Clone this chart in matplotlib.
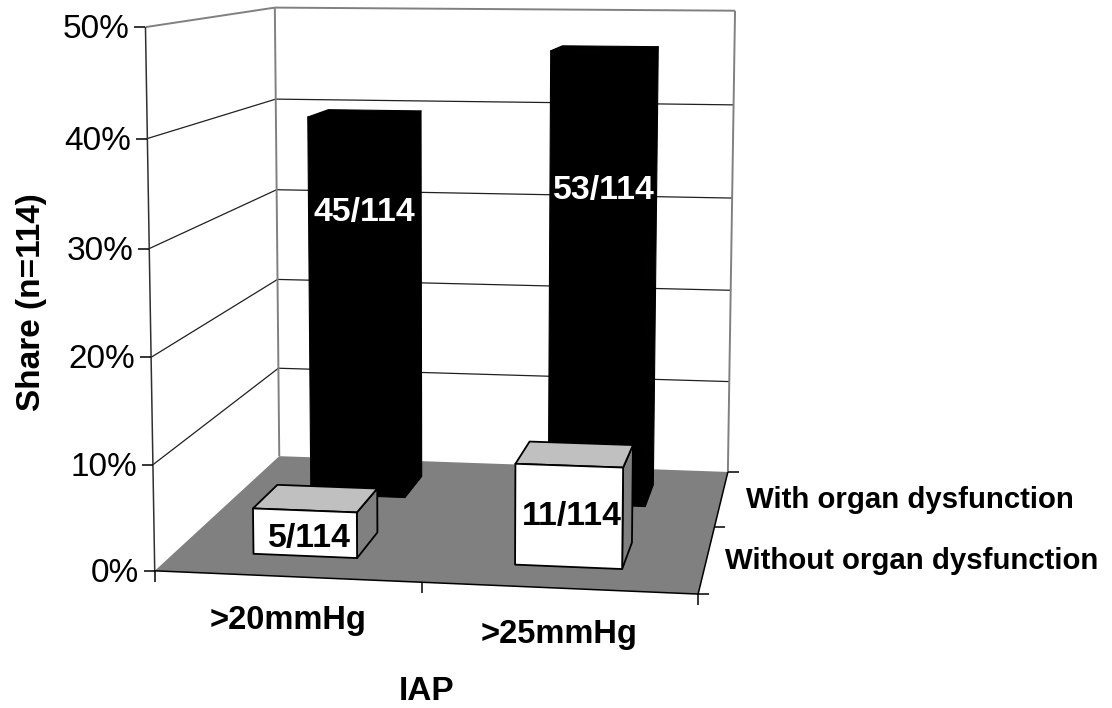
import numpy as np
import matplotlib
matplotlib.use("Agg")
import matplotlib.pyplot as plt
from matplotlib.patches import Polygon

categories = [">20mmHg", ">25mmHg"]
series_names = ["Without organ dysfunction", "With organ dysfunction"]
without_share = [4.4, 9.6]
with_share = [39.5, 46.5]
without_labels = ["5/114", "11/114"]
with_labels = ["45/114", "53/114"]
value_ticks = [0, 10, 20, 30, 40, 50]
value_tick_labels = ["0%", "10%", "20%", "30%", "40%", "50%"]
y_title = "Share (n=114)"
x_title = "IAP"

FONT = "Liberation Sans"
W, H = 1112, 708
VMAX = 50.0
BAR_W = 0.2

# Calibration of the perspective camera: unit-cube corner -> canvas pixel
cam_cube = np.array([[0,0,0],[0,0,1],[0,1,1],[0,1,0],[1,1,1],[1,1,0],[1,0,0]], float)
cam_px = np.array([[155,571],[145.3,27],[275,7.7],[279,456],[735,10.7],[728,472],[698,594]], float)

def fit_camera(c, p):
    rows = []
    for (x, y, z), (u, v) in zip(c, p):
        rows.append([x, y, z, 1, 0, 0, 0, 0, -u*x, -u*y, -u*z, -u])
        rows.append([0, 0, 0, 0, x, y, z, 1, -v*x, -v*y, -v*z, -v])
    return np.linalg.svd(np.array(rows))[2][-1].reshape(3, 4)

P = fit_camera(cam_cube, cam_px)

def proj(x, d, v):
    """x across categories (0-2), d across series (0-2), v in percent."""
    q = P @ np.array([x/2, d/2, v/VMAX, 1.0])
    return q[:2] / q[2]

fig = plt.figure(figsize=(W/100, H/100), dpi=100)
ax = fig.add_axes([0, 0, 1, 1])
ax.set_xlim(0, W); ax.set_ylim(H, 0); ax.axis("off")

def line(a, b, color="black", lw=0.9, z=2):
    ax.plot([a[0], b[0]], [a[1], b[1]], color=color, lw=lw, zorder=z, solid_capstyle="butt")

def poly(pts, fc, ec="black", lw=1.3, z=3):
    ax.add_patch(Polygon(pts, closed=True, fc=fc, ec=ec, lw=lw, zorder=z, joinstyle="round"))

# gridlines on the two walls
for v in value_ticks[1:]:
    col = "#808080" if v == VMAX else "#202020"
    wid = 1.4 if v == VMAX else 0.9
    line(proj(0, 0, v), proj(0, 2, v), col, wid)
    line(proj(0, 2, v), proj(2, 2, v), col, wid)
line(proj(0, 2, 0), proj(0, 2, VMAX), "#808080", 1.4)
line(proj(2, 2, 0), proj(2, 2, VMAX), "#808080", 1.4)
line(proj(0, 0, 0), proj(0, 0, VMAX), "#303030", 1.1)

# floor
poly([proj(0,0,0), proj(2,0,0), proj(2,2,0), proj(0,2,0)], "#808080", ec="none", z=2.5)
line(proj(0,0,0), proj(2,0,0), "black", 1.1, 2.6)
line(proj(2,0,0), proj(2,2,0), "black", 1.1, 2.6)

# value axis ticks and labels
for v, lab in zip(value_ticks, value_tick_labels):
    p = proj(0, 0, v)
    line(p, (p[0]-11, p[1]), "black", 1.1)
    ax.text(p[0]-16, p[1]+2.5, lab, ha="right", va="center", fontsize=24, family=FONT, color="black")

# category ticks and labels
for i in range(3):
    p = proj(i, 0, 0)
    line(p, (p[0], p[1]+11), "black", 1.1)
cat_pos = [(288, 621), (559, 635)]
for c, (cx, cy) in zip(categories, cat_pos):
    ax.text(cx, cy, c, ha="center", va="center", fontsize=23.5, family=FONT, weight="bold")

# series ticks and labels
for i in range(3):
    p = proj(2, i, 0)
    line(p, (p[0]+11, p[1]), "black", 1.1)
ser_pos = [(1098, 561), (1074, 500)]
for s, (sx, sy) in zip(series_names, ser_pos):
    ax.text(sx, sy, s, ha="right", va="center", fontsize=21.2, family=FONT, weight="bold")

def bar(i, row, v, front, top, side, ec, lw, z):
    x0, x1 = i + 0.5 - BAR_W, i + 0.5 + BAR_W
    d0, d1 = row + 0.5 - BAR_W, row + 0.5 + BAR_W
    poly([proj(x1,d0,0), proj(x1,d1,0), proj(x1,d1,v), proj(x1,d0,v)], side, ec, lw, z)
    poly([proj(x0,d0,v), proj(x1,d0,v), proj(x1,d1,v), proj(x0,d1,v)], top, ec, lw, z)
    poly([proj(x0,d0,0), proj(x1,d0,0), proj(x1,d0,v), proj(x0,d0,v)], front, ec, lw, z)

for i, v in enumerate(with_share):
    bar(i, 1, v, "black", "black", "black", "black", 0.8, 4)
for i, v in enumerate(without_share):
    bar(i, 0, v, "white", "#c0c0c0", "#808080", "black", 1.3, 5)

# data labels
with_lab_pos = [(364, 212), (604, 190)]
without_lab_pos = [(309, 539), (572, 516)]
for t, (tx, ty) in zip(with_labels, with_lab_pos):
    ax.text(tx, ty, t, ha="center", va="center", fontsize=24.4, family=FONT, weight="bold", color="white", zorder=6)
for t, (tx, ty) in zip(without_labels, without_lab_pos):
    ax.text(tx, ty, t, ha="center", va="center", fontsize=24.4, family=FONT, weight="bold", color="black", zorder=6)

# axis titles
ax.text(32, 302, y_title, rotation=90, ha="center", va="center", fontsize=24, family=FONT, weight="bold")
ax.text(427, 691, x_title, ha="center", va="center", fontsize=24, family=FONT, weight="bold")

fig.savefig("out.png", dpi=100)
